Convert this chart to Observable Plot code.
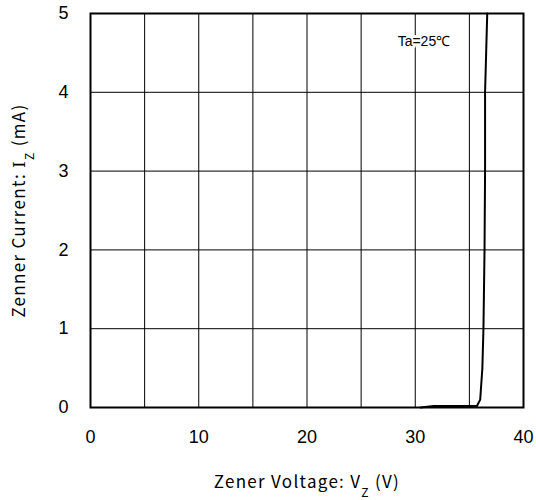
<!DOCTYPE html>
<html><head><meta charset="utf-8">
<script src="https://cdn.jsdelivr.net/npm/d3@7"></script>
<script src="https://cdn.jsdelivr.net/npm/@observablehq/plot@0.6"></script>
<style>body{margin:0;background:#fff}</style>
</head><body><div id="chart"></div>
<script>
const voltage = [30.5, 31.7, 35.7, 36.0, 36.2, 36.3, 36.4, 36.45, 36.45, 36.55, 36.65];
const current = [0, 0.02, 0.02, 0.1, 0.5, 1.0, 2.0, 3.0, 4.0, 4.5, 5.0];
const xTicks = [0, 10, 20, 30, 40];
const yTicks = [0, 1, 2, 3, 4, 5];
const xGrid = [5, 10, 15, 20, 25, 30, 35];
const yGrid = [1, 2, 3, 4];
const noteText = ["Ta=25℃"];
const noteX = [30.8];
const noteY = [4.65];

const curve = voltage.map((v, i) => ({v, i: current[i]}));
const notes = noteText.map((t, k) => ({t, x: noteX[k], y: noteY[k]}));

const chart = Plot.plot({
  width: 536,
  height: 500,
  marginLeft: 90,
  marginRight: 13,
  marginTop: 13,
  marginBottom: 93,
  style: {fontFamily: "'Liberation Sans', Arial, sans-serif", fontSize: "18px", color: "#000", background: "#fff"},
  x: {domain: [0, 40]},
  y: {domain: [0, 5]},
  marks: [
    Plot.ruleX(xGrid, {stroke: "#000", strokeWidth: 1}),
    Plot.ruleY(yGrid, {stroke: "#000", strokeWidth: 1}),
    Plot.line(curve, {x: "v", y: "i", stroke: "#000", strokeWidth: 2}),
    Plot.frame({stroke: "#000", strokeWidth: 2}),
    Plot.text(notes, {x: "x", y: "y", text: "t", fontSize: 14, fill: "#000", stroke: "#fff", strokeWidth: 6}),
    Plot.axisX(xTicks, {tickSize: 0, tickPadding: 23, fontSize: 18, tickFormat: d => String(d), label: "Zener Voltage: VZ (V)", labelArrow: false, labelAnchor: "center", labelOffset: 80}),
    Plot.axisY(yTicks, {tickSize: 0, tickPadding: 22, fontSize: 18, tickFormat: d => String(d), label: "Zenner Current: IZ (mA)", labelArrow: false, labelAnchor: "center", labelOffset: 78})
  ]
});
document.getElementById("chart").appendChild(chart);

// Subscripts in axis titles
d3.select(chart).selectAll("text").each(function() {
  const t = d3.select(this);
  const s = t.text();
  if (s.startsWith("Zener Voltage")) {
    t.text(null).attr("font-family", "'Noto Sans CJK JP', sans-serif").attr("font-size", 17).attr("letter-spacing", 1.3);
    t.append("tspan").text("Zener Voltage: V");
    t.append("tspan").attr("baseline-shift", "sub").attr("font-size", 12).text("Z");
    t.append("tspan").text(" (V)");
  } else if (s.startsWith("Zenner Current")) {
    t.text(null).attr("font-family", "'Noto Sans CJK JP', sans-serif").attr("font-size", 17).attr("letter-spacing", 1.3);
    t.append("tspan").text("Zenner Current: ");
    t.append("tspan").attr("font-family", "'DejaVu Serif', serif").text("I");
    t.append("tspan").attr("baseline-shift", "sub").attr("font-size", 12).text("Z");
    t.append("tspan").text(" (mA)");
  }
});
</script>
</body></html>
